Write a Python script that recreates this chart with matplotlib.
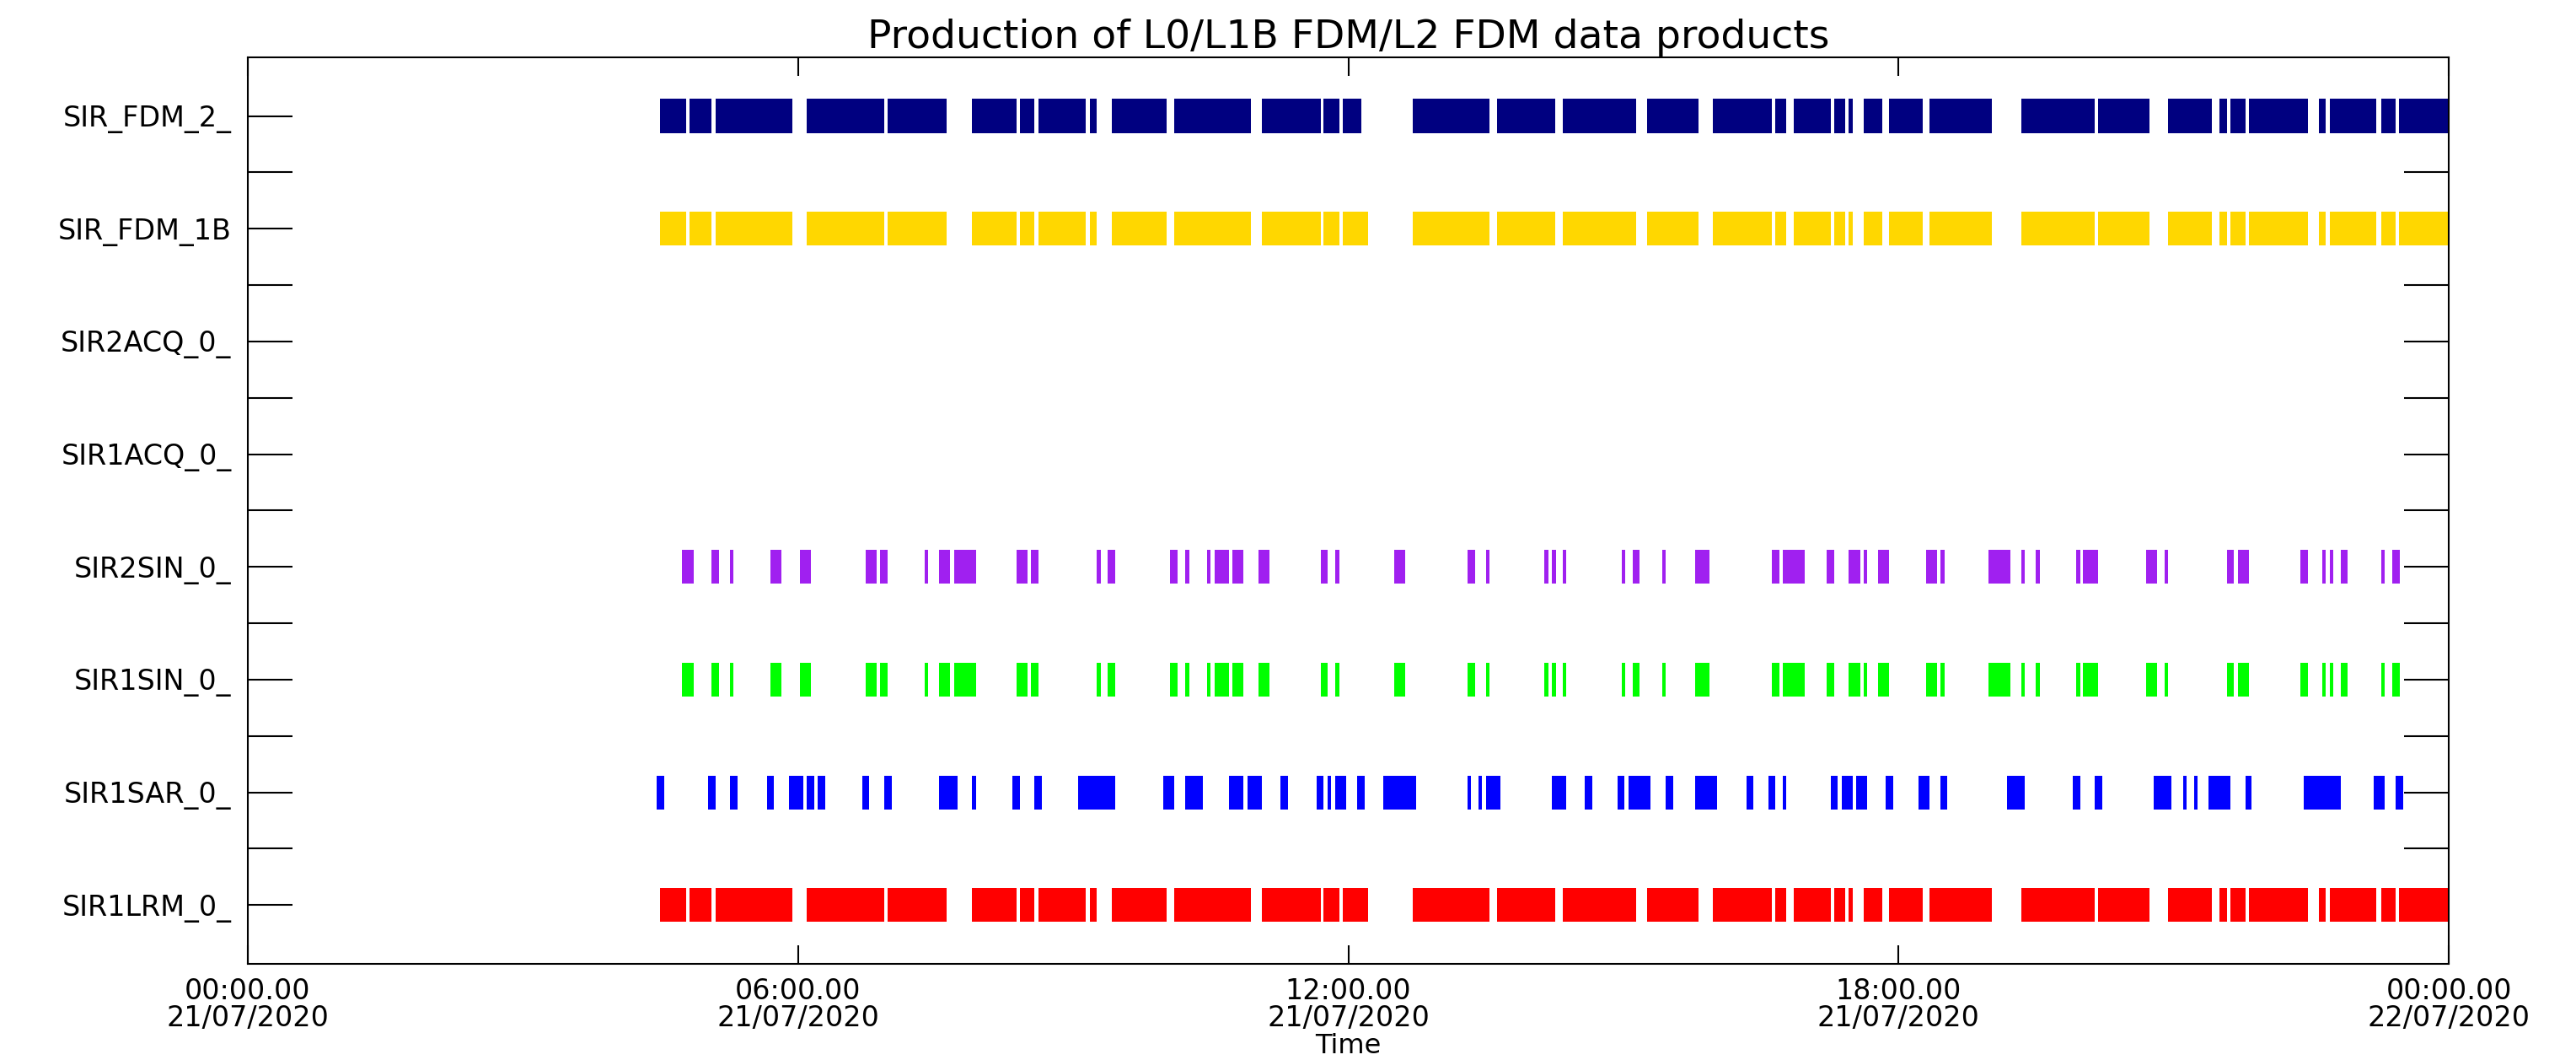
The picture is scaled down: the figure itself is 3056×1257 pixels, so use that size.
import matplotlib
matplotlib.use("Agg")
import matplotlib.pyplot as plt

# product rows, bottom to top
products = ['SIR1LRM_0_', 'SIR1SAR_0_', 'SIR1SIN_0_', 'SIR2SIN_0_',
            'SIR1ACQ_0_', 'SIR2ACQ_0_', 'SIR_FDM_1B', 'SIR_FDM_2_']
colors = ['#FF0000', '#0000FF', '#00FF00', '#A020F0',
          '#FFFFFF', '#FFFFFF', '#FFD700', '#000080']

# time intervals (hours since 21/07/2020 00:00)
lrm_0 = [(4.492, 4.777), (4.815, 5.055), (5.099, 5.936), (6.094, 6.942), (6.973, 7.619),
         (7.898, 8.385), (8.416, 8.575), (8.619, 9.138), (9.182, 9.252), (9.423, 10.018),
         (10.101, 10.936), (11.056, 11.702), (11.733, 11.904), (11.936, 12.215),
         (12.702, 13.538), (13.620, 14.258), (14.335, 15.135), (15.257, 15.818),
         (15.973, 16.618), (16.656, 16.772), (16.857, 17.263), (17.295, 17.417),
         (17.456, 17.501), (17.617, 17.824), (17.894, 18.262), (18.339, 19.017),
         (19.338, 20.138), (20.176, 20.738), (20.938, 21.415), (21.498, 21.583),
         (21.615, 21.782), (21.821, 22.466), (22.582, 22.659), (22.704, 23.213),
         (23.265, 23.419), (23.459, 24.0)]

fdm_1b = [(4.492, 4.777), (4.815, 5.055), (5.099, 5.936), (6.094, 6.942), (6.973, 7.619),
          (7.898, 8.385), (8.416, 8.575), (8.619, 9.138), (9.182, 9.252), (9.423, 10.018),
          (10.101, 10.936), (11.056, 11.702), (11.733, 11.904), (11.936, 12.215),
          (12.702, 13.538), (13.620, 14.258), (14.335, 15.135), (15.257, 15.818),
          (15.973, 16.618), (16.656, 16.772), (16.857, 17.263), (17.295, 17.417),
          (17.456, 17.501), (17.617, 17.824), (17.894, 18.262), (18.339, 19.017),
          (19.338, 20.138), (20.176, 20.738), (20.938, 21.415), (21.498, 21.583),
          (21.615, 21.782), (21.821, 22.466), (22.582, 22.659), (22.704, 23.213),
          (23.265, 23.419), (23.459, 24.0)]

fdm_2 = [(4.492, 4.777), (4.815, 5.055), (5.099, 5.936), (6.094, 6.942), (6.973, 7.619),
         (7.898, 8.385), (8.416, 8.575), (8.619, 9.138), (9.182, 9.252), (9.423, 10.018),
         (10.101, 10.936), (11.056, 11.702), (11.733, 11.904), (11.936, 12.138),
         (12.702, 13.538), (13.620, 14.258), (14.335, 15.135), (15.257, 15.818),
         (15.973, 16.618), (16.656, 16.772), (16.857, 17.263), (17.295, 17.417),
         (17.456, 17.501), (17.617, 17.824), (17.894, 18.262), (18.339, 19.017),
         (19.338, 20.138), (20.176, 20.738), (20.938, 21.415), (21.498, 21.583),
         (21.615, 21.782), (21.821, 22.466), (22.582, 22.659), (22.704, 23.213),
         (23.265, 23.419), (23.459, 24.0)]

sin_1 = [(4.733, 4.859), (5.055, 5.138), (5.257, 5.296), (5.701, 5.815), (6.017, 6.138),
         (6.739, 6.859), (6.891, 6.973), (7.379, 7.416), (7.537, 7.656), (7.701, 7.941),
         (8.385, 8.499), (8.537, 8.619), (9.252, 9.302), (9.372, 9.455), (10.056, 10.138),
         (10.221, 10.265), (10.461, 10.493), (10.543, 10.696), (10.733, 10.854),
         (11.018, 11.139), (11.702, 11.771), (11.854, 11.904), (12.500, 12.619),
         (13.297, 13.380), (13.500, 13.538), (14.135, 14.180), (14.219, 14.265),
         (14.335, 14.374), (14.980, 15.018), (15.103, 15.174), (15.425, 15.457),
         (15.780, 15.934), (16.618, 16.701), (16.740, 16.979), (17.217, 17.295),
         (17.456, 17.585), (17.617, 17.656), (17.779, 17.894), (18.301, 18.416),
         (18.455, 18.500), (18.978, 19.216), (19.338, 19.378), (19.494, 19.539),
         (19.938, 19.983), (20.015, 20.176), (20.699, 20.815), (20.899, 20.938),
         (21.583, 21.653), (21.699, 21.821), (22.382, 22.466), (22.621, 22.659),
         (22.704, 22.743), (22.821, 22.898), (23.265, 23.298), (23.381, 23.465)]

sin_2 = [(4.733, 4.859), (5.055, 5.138), (5.257, 5.296), (5.701, 5.815), (6.017, 6.138),
         (6.739, 6.859), (6.891, 6.973), (7.379, 7.416), (7.537, 7.656), (7.701, 7.941),
         (8.385, 8.499), (8.537, 8.619), (9.252, 9.302), (9.372, 9.455), (10.056, 10.138),
         (10.221, 10.265), (10.461, 10.493), (10.543, 10.696), (10.733, 10.854),
         (11.018, 11.139), (11.702, 11.771), (11.854, 11.904), (12.500, 12.619),
         (13.297, 13.380), (13.500, 13.538), (14.135, 14.180), (14.219, 14.265),
         (14.335, 14.374), (14.980, 15.018), (15.103, 15.174), (15.425, 15.457),
         (15.780, 15.934), (16.618, 16.701), (16.740, 16.979), (17.217, 17.295),
         (17.456, 17.585), (17.617, 17.656), (17.779, 17.894), (18.301, 18.416),
         (18.455, 18.500), (18.978, 19.216), (19.338, 19.378), (19.494, 19.539),
         (19.938, 19.983), (20.015, 20.176), (20.699, 20.815), (20.899, 20.938),
         (21.583, 21.653), (21.699, 21.821), (22.382, 22.466), (22.621, 22.659),
         (22.704, 22.743), (22.821, 22.898), (23.265, 23.298), (23.381, 23.465)]

sar_0 = [(4.460, 4.542), (5.017, 5.099), (5.257, 5.340), (5.663, 5.733), (5.903, 6.055),
         (6.094, 6.176), (6.213, 6.296), (6.701, 6.771), (6.942, 7.024), (7.537, 7.739),
         (7.898, 7.941), (8.335, 8.416), (8.575, 8.657), (9.056, 9.455), (9.980, 10.100),
         (10.221, 10.411), (10.696, 10.854), (10.898, 11.056), (11.259, 11.341),
         (11.652, 11.733), (11.771, 11.816), (11.854, 11.974), (12.095, 12.176),
         (12.380, 12.740), (13.297, 13.335), (13.417, 13.455), (13.500, 13.658),
         (14.219, 14.374), (14.580, 14.657), (14.935, 15.012), (15.057, 15.296),
         (15.457, 15.541), (15.780, 16.018), (16.340, 16.418), (16.579, 16.656),
         (16.740, 16.772), (17.263, 17.334), (17.379, 17.501), (17.540, 17.656),
         (17.856, 17.939), (18.217, 18.333), (18.455, 18.533), (19.184, 19.378),
         (19.900, 19.983), (20.138, 20.222), (20.783, 20.976), (21.106, 21.138),
         (21.222, 21.260), (21.376, 21.615), (21.782, 21.853), (22.415, 22.821),
         (23.181, 23.298), (23.420, 23.504)]

acq_1 = []
acq_2 = []

intervals = [lrm_0, sar_0, sin_1, sin_2, acq_1, acq_2, fdm_1b, fdm_2]

tick_hours = [0, 6, 12, 18, 24]
tick_labels = ['00:00.00\n21/07/2020', '06:00.00\n21/07/2020', '12:00.00\n21/07/2020',
               '18:00.00\n21/07/2020', '00:00.00\n22/07/2020']

plt.rcParams['font.family'] = ['DejaVu Sans']

fig = plt.figure(figsize=(30.56, 12.57), dpi=100)
ax = fig.add_axes([0.0962, 0.0909, 0.8544, 0.855])
ax.set_axisbelow(True)  # bars cover the inward ticks

bar_h = 0.3
for i, segs in enumerate(intervals):
    if len(segs) == 0:
        continue
    ax.broken_barh([(s, e - s) for s, e in segs], (i - bar_h / 2, bar_h),
                   facecolors=colors[i], linewidth=0, zorder=2)

ax.set_xlim(0, 24)
ax.set_ylim(-0.52, 7.52)

ax.set_yticks(range(len(products)))
ax.set_yticklabels(products)
ax.set_yticks([i + 0.5 for i in range(len(products) - 1)], minor=True)
ax.set_xticks(tick_hours)
ax.set_xticklabels(tick_labels)
for t in ax.get_xticklabels():
    t.set_linespacing(0.95)

ax.tick_params(axis='y', which='both', direction='in', length=38, width=1.5,
               left=True, right=True, labelsize=24, pad=14)
ax.tick_params(axis='x', which='both', direction='in', length=16, width=1.5,
               top=True, bottom=True, labelsize=24, pad=12)
for sp in ax.spines.values():
    sp.set_linewidth(1.5)
    sp.set_zorder(3)

ax.set_xlabel('Time', fontsize=23, labelpad=1)
ax.set_title('Production of L0/L1B FDM/L2 FDM data products', fontsize=34, pad=8)

plt.savefig('out.png', dpi=100)
